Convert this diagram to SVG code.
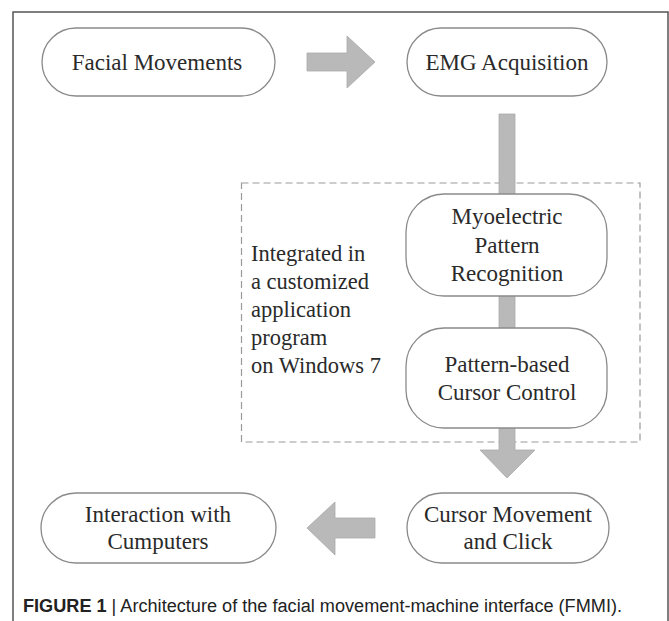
<svg xmlns="http://www.w3.org/2000/svg" width="669" height="621" viewBox="0 0 669 621">
<style>
.node{fill:#fff;stroke:#8a8a8a;stroke-width:1.3}
.t{font-family:"Liberation Serif","Times New Roman",serif;font-size:23px;fill:#2a2a2a;text-anchor:middle}
.tl{font-family:"Liberation Serif","Times New Roman",serif;font-size:22.5px;fill:#2a2a2a}
.arr{fill:#b9b9b9;stroke:#a9a9a9;stroke-width:0.8}
</style>
<rect x="0" y="0" width="669" height="621" fill="#fff"/>
<rect x="13" y="12" width="655" height="630" fill="none" stroke="#555" stroke-width="1.5"/>
<g id="group-box">
<rect x="241.5" y="183" width="398.5" height="259" fill="none" stroke="#9a9a9a" stroke-width="1.2" stroke-dasharray="7,4"/>
</g>
<g id="connectors">
<path class="arr" d="M307,53 H347 V36 L375,62 L347,88 V71 H307 Z"/>
<path class="arr" d="M499,114 H515 V450 H535 L507,478 L480,450 H499 Z"/>
<path class="arr" d="M375,518 H335 V502 L307,528 L335,555 V538 H375 Z"/>
</g>
<g id="n-facial">
<rect class="node" x="42" y="28" width="233" height="68" rx="34"/>
<text class="t" x="157" y="70">Facial Movements</text>
</g>
<g id="n-emg">
<rect class="node" x="407" y="28" width="200" height="68" rx="34"/>
<text class="t" x="507" y="70">EMG Acquisition</text>
</g>
<g id="n-myo">
<rect class="node" x="406" y="194" width="201" height="102" rx="38"/>
<text class="t" x="507" y="224">Myoelectric</text>
<text class="t" x="507" y="253">Pattern</text>
<text class="t" x="507" y="281">Recognition</text>
</g>
<g id="n-pattern">
<rect class="node" x="406" y="328" width="201" height="100" rx="38"/>
<text class="t" x="507" y="372">Pattern-based</text>
<text class="t" x="507" y="400">Cursor Control</text>
</g>
<g id="n-cursor">
<rect class="node" x="407" y="493" width="202" height="70" rx="35"/>
<text class="t" x="508" y="522">Cursor Movement</text>
<text class="t" x="508" y="549">and Click</text>
</g>
<g id="n-interaction">
<rect class="node" x="41" y="493" width="235" height="70" rx="35"/>
<text class="t" x="158" y="522">Interaction with</text>
<text class="t" x="158" y="549">Cumputers</text>
</g>
<g id="label-integrated">
<text class="tl" x="251" y="261">Integrated in</text>
<text class="tl" x="251" y="289">a customized</text>
<text class="tl" x="251" y="317">application</text>
<text class="tl" x="251" y="345">program</text>
<text class="tl" x="251" y="373">on Windows 7</text>
</g>
<g id="caption">
<text x="23" y="612" font-family="'Liberation Sans',Arial,sans-serif" font-size="18" fill="#222" textLength="599" lengthAdjust="spacingAndGlyphs"><tspan font-weight="bold">FIGURE 1</tspan> | Architecture of the facial movement-machine interface (FMMI).</text>
</g>
</svg>
